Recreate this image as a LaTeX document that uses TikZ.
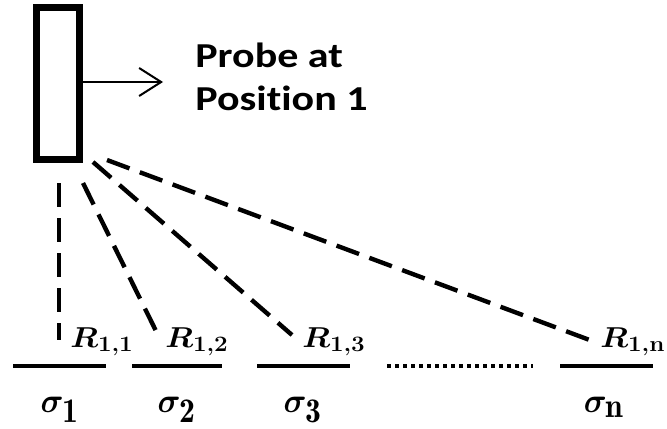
\documentclass[tikz,border=0pt]{standalone}
\usepackage{amsmath,amssymb}
\usepackage{bm}
\usepackage{graphicx}
\usepackage{fontspec}
\newfontfamily\probefont[FakeStretch=1.2, Ligatures=NoCommon]{Carlito}
\usepackage{tikz}
\usetikzlibrary{positioning,arrows.meta}
\newcommand{\wide}[2]{\scalebox{#1}[1]{#2}}
\newcommand{\rlab}[1]{\wide{1.1}{$\bm{R}_{\text{\fontsize{11}{13}\selectfont\bfseries #1}}$}}

\begin{document}
\begin{tikzpicture}[
        x=0.5pt, y=-0.5pt,
        probe/.style={rectangle, draw, line width=3.5pt, inner sep=0pt,
                      minimum width=21.5pt, minimum height=76pt},
        arrow/.style={-{Straight Barb[length=11pt, width=14pt]}, line width=1pt},
        ray/.style={line width=2.2pt, dash pattern=on 12pt off 5.5pt},
        layer/.style={line width=2pt},
        gap/.style={line width=2pt, dash pattern=on 2pt off 2pt},
        rlabel/.style={inner sep=0pt, anchor=base west, font=\fontsize{14.4}{17}\selectfont},
        slabel/.style={inner sep=0pt, anchor=base, font=\fontsize{17.28}{20}\selectfont},
        title/.style={inner sep=0pt, anchor=base west, align=left,
                      font=\probefont\bfseries\fontsize{17.5}{21.5}\selectfont}
    ]
        \useasboundingbox (0,0) rectangle (667,428);

        % Sonde mit Richtungspfeil
        \node[probe] (probe) at (58,83.5) {};
        \coordinate (tip) at (163,82);
        \draw[arrow] (probe.east |- tip) -- (tip);
        \node[title] (name) at (195,110) {Probe at\\Position 1};

        % Schichten
        \coordinate (s1a) at (13,366);  \coordinate (s1b) at (106,366);
        \coordinate (s2a) at (132,366); \coordinate (s2b) at (222,366);
        \coordinate (s3a) at (257,366); \coordinate (s3b) at (350,366);
        \coordinate (dta) at (387,366); \coordinate (dtb) at (533,366);
        \coordinate (sna) at (560,366); \coordinate (snb) at (653,366);
        \draw[layer] (s1a) -- (s1b);
        \draw[layer] (s2a) -- (s2b);
        \draw[layer] (s3a) -- (s3b);
        \draw[gap] (dta) -- (dtb);
        \draw[layer] (sna) -- (snb);

        \node[slabel] (sig1) at (60,412) {\wide{0.92}{$\bm{\sigma}_{\textstyle\mathbf{1}}$}};
        \node[slabel] (sig2) at (177,412) {\wide{0.92}{$\bm{\sigma}_{\textstyle\mathbf{2}}$}};
        \node[slabel] (sig3) at (303,412) {\wide{0.92}{$\bm{\sigma}_{\textstyle\mathbf{3}}$}};
        \node[slabel] (sign) at (604,412) {\wide{0.92}{$\bm{\sigma}_{\textstyle\mathbf{n}}$}};

        % Messpunkte
        \node[rlabel] (r11) at (70,347) {\rlab{1,1}};
        \node[rlabel] (r12) at (165,347) {\rlab{1,2}};
        \node[rlabel] (r13) at (302,347) {\rlab{1,3}};
        \node[rlabel] (r1n) at (600,347) {\rlab{1,n}};

        % Strahlen
        \coordinate (o1) at (59,183);  \coordinate (e1) at (59,340);
        \coordinate (o2) at (83,183);  \coordinate (e2) at (157,333);
        \coordinate (o3) at (93,162);  \coordinate (e3) at (292,335);
        \coordinate (on) at (107,160); \coordinate (en) at (595,342);
        \draw[ray] (o1) -- (e1);
        \draw[ray] (o2) -- (e2);
        \draw[ray] (o3) -- (e3);
        \draw[ray] (on) -- (en);
    \end{tikzpicture}
\end{document}
